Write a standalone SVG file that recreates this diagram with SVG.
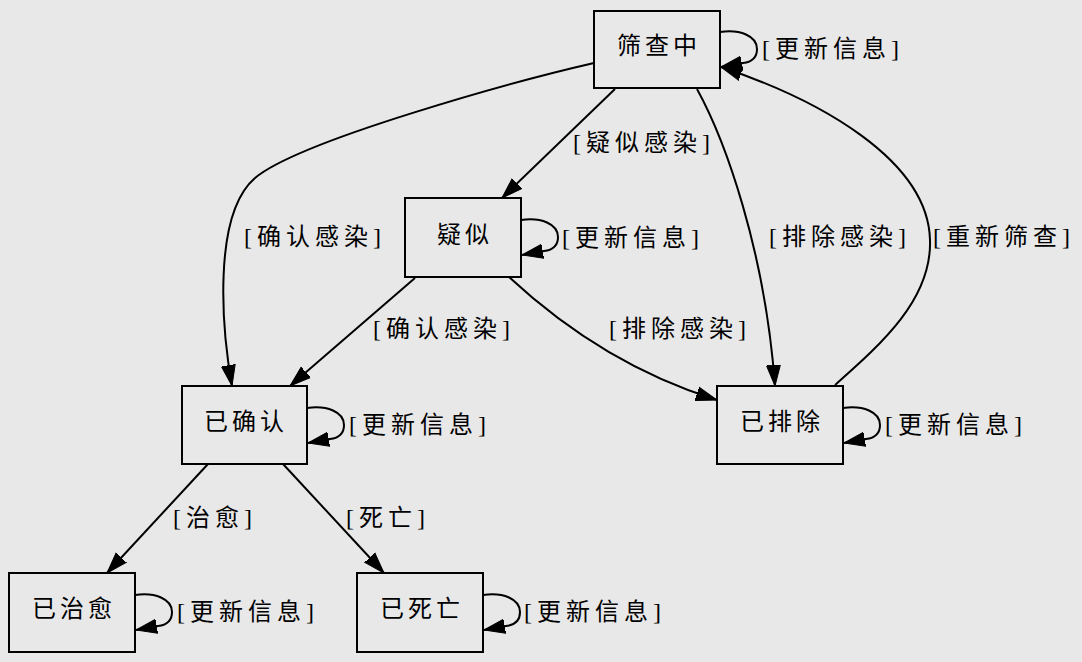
<svg xmlns="http://www.w3.org/2000/svg" width="1082" height="662" viewBox="0 0 1082 662">
<defs>
<style>
.bg{fill:#e8e8e8}
.node rect{fill:#e8e8e8;stroke:#000;stroke-width:2}
.node text{font-family:"Liberation Serif","Noto Sans CJK SC",serif;font-size:24px;letter-spacing:4px;text-anchor:middle;fill:#000}
.lbl{font-family:"Liberation Serif","Noto Sans CJK SC",serif;font-size:24px;letter-spacing:5px;text-anchor:middle;fill:#000}
.edge{fill:none;stroke:#000;stroke-width:2;marker-end:url(#arr)}
</style>
<marker id="arr" markerUnits="userSpaceOnUse" markerWidth="22" markerHeight="16" viewBox="0 0 22 16" refX="21" refY="8" orient="auto">
<path d="M0,1 L21,8 L0,15 z" fill="#000" stroke="#000" stroke-width="1"/>
</marker>
</defs>
<rect class="bg" x="0" y="0" width="1082" height="662"/>
<g id="connectors">
<path class="edge" d="M615,89 L502,198"/>
<path class="edge" d="M594,63 C520,80 300,140 255,178 C212,215 222,330 232,386"/>
<path class="edge" d="M697,89 C725,140 765,250 775,386"/>
<path class="edge" d="M835,385 C880,345 932,300 930,240 C928,160 820,100 721,67"/>
<path class="edge" d="M415,278 L290,386"/>
<path class="edge" d="M509,277 C550,315 620,370 717,400"/>
<path class="edge" d="M208,464 L107,573"/>
<path class="edge" d="M283,464 L384,573"/>
<path class="edge" d="M720,32 C740,29 757,36 757,49 C757,58 752,62 743,63 L721,67"/>
<path class="edge" d="M521,220 C541,217 558,224 558,237 C558,246 553,250 544,251 L522,255"/>
<path class="edge" d="M307,408 C327,405 344,412 344,425 C344,434 339,438 330,439 L308,443"/>
<path class="edge" d="M843,408 C863,405 880,412 880,425 C880,434 875,438 866,439 L844,443"/>
<path class="edge" d="M135,595 C155,592 172,599 172,612 C172,621 167,625 158,626 L136,630"/>
<path class="edge" d="M483,595 C503,592 520,599 520,612 C520,621 515,625 506,626 L484,630"/>
<text class="lbl" x="833" y="57">[更新信息]</text>
<text class="lbl" x="644" y="151">[疑似感染]</text>
<text class="lbl" x="315" y="245">[确认感染]</text>
<text class="lbl" x="633" y="246">[更新信息]</text>
<text class="lbl" x="840" y="245">[排除感染]</text>
<text class="lbl" x="1004" y="245">[重新筛查]</text>
<text class="lbl" x="444" y="337">[确认感染]</text>
<text class="lbl" x="680" y="337">[排除感染]</text>
<text class="lbl" x="420" y="433">[更新信息]</text>
<text class="lbl" x="956" y="433">[更新信息]</text>
<text class="lbl" x="215" y="526">[治愈]</text>
<text class="lbl" x="388" y="526">[死亡]</text>
<text class="lbl" x="248" y="620">[更新信息]</text>
<text class="lbl" x="595" y="620">[更新信息]</text>
</g>
<g id="n-screening" class="node"><rect x="594" y="11" width="126" height="77"/><text x="659" y="54">筛查中</text></g>
<g id="n-suspected" class="node"><rect x="405" y="198" width="116" height="79"/><text x="465" y="243">疑似</text></g>
<g id="n-confirmed" class="node"><rect x="182" y="386" width="125" height="78"/><text x="246" y="430">已确认</text></g>
<g id="n-excluded" class="node"><rect x="717" y="386" width="126" height="78"/><text x="782" y="430">已排除</text></g>
<g id="n-cured" class="node"><rect x="9" y="573" width="126" height="79"/><text x="74" y="617">已治愈</text></g>
<g id="n-dead" class="node"><rect x="357" y="573" width="126" height="79"/><text x="422" y="617">已死亡</text></g>
</svg>
